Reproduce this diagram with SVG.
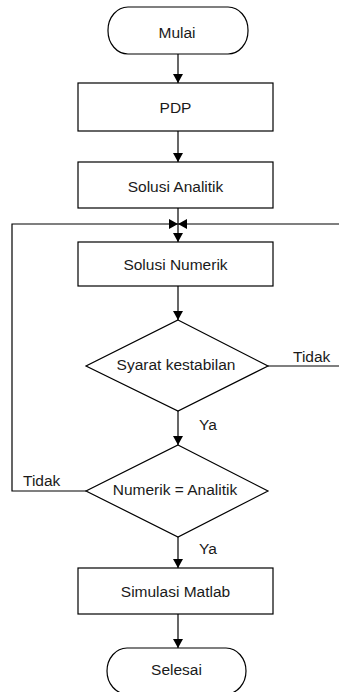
<svg xmlns="http://www.w3.org/2000/svg" width="339" height="692" viewBox="0 0 339 692">
<style>
.s{fill:#fff;stroke:#000;stroke-width:1.2}
.c{fill:none;stroke:#000;stroke-width:1.2}
text{font-family:"Liberation Sans",Arial,sans-serif;font-size:15.5px;fill:#1a1a1a}
.m{text-anchor:middle}
</style>
<defs>
<marker id="ah" markerUnits="userSpaceOnUse" viewBox="0 0 9 10" markerWidth="9" markerHeight="10" refX="9" refY="5" orient="auto">
<path d="M0,0 L9,5 L0,10 z" fill="#000"/>
</marker>
</defs>
<rect width="339" height="692" fill="#fff"/>
<g id="connectors">
<line class="c" x1="178" y1="54" x2="178" y2="83" marker-end="url(#ah)"/>
<line class="c" x1="178" y1="131" x2="178" y2="162" marker-end="url(#ah)"/>
<line class="c" x1="178" y1="208" x2="178" y2="242" marker-end="url(#ah)"/>
<line class="c" x1="178" y1="286" x2="178" y2="320" marker-end="url(#ah)"/>
<line class="c" x1="178" y1="411" x2="178" y2="445" marker-end="url(#ah)"/>
<line class="c" x1="178" y1="537" x2="178" y2="568" marker-end="url(#ah)"/>
<line class="c" x1="178" y1="614" x2="178" y2="648" marker-end="url(#ah)"/>
<path class="c" d="M268,366 H345 V224 H178" marker-end="url(#ah)"/>
<path class="c" d="M86,491 H12 V224 H178" marker-end="url(#ah)"/>
<text x="293" y="362">Tidak</text>
<text x="199" y="430">Ya</text>
<text x="23" y="486">Tidak</text>
<text x="199" y="554">Ya</text>
</g>
<g id="mulai">
<rect class="s" x="108" y="7" width="140" height="47" rx="20" ry="23"/>
<text class="m" x="177" y="37.5">Mulai</text>
</g>
<g id="pdp">
<rect class="s" x="78" y="83" width="195" height="48"/>
<text class="m" x="175.5" y="112.5">PDP</text>
</g>
<g id="solusi-analitik">
<rect class="s" x="78" y="162" width="195" height="46"/>
<text class="m" x="175.5" y="192">Solusi Analitik</text>
</g>
<g id="solusi-numerik">
<rect class="s" x="78" y="242" width="195" height="44"/>
<text class="m" x="175.5" y="270">Solusi Numerik</text>
</g>
<g id="syarat">
<polygon class="s" points="178,320 268,366 178,411 86,366"/>
<text class="m" x="176" y="370">Syarat kestabilan</text>
</g>
<g id="numerik-analitik">
<polygon class="s" points="178,445 268,491 178,537 86,491"/>
<text class="m" x="175" y="495">Numerik = Analitik</text>
</g>
<g id="simulasi">
<rect class="s" x="78" y="568" width="195" height="46"/>
<text class="m" x="175.5" y="597">Simulasi Matlab</text>
</g>
<g id="selesai">
<rect class="s" x="107" y="648" width="139" height="46" rx="20" ry="23"/>
<text class="m" x="176.5" y="675">Selesai</text>
</g>
</svg>
